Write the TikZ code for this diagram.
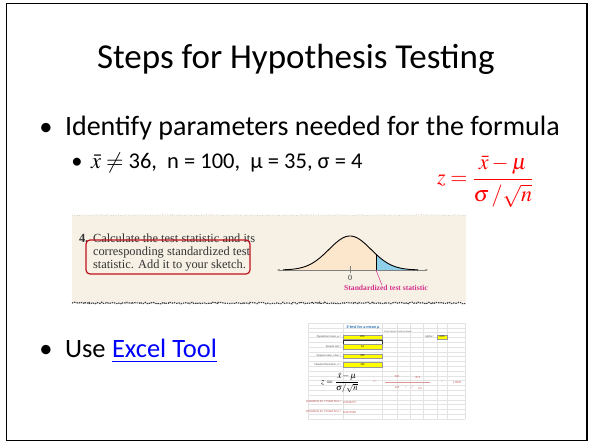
\documentclass[tikz,border=0pt]{standalone}
\usepackage{mathptmx}
\usepackage{fontspec}
\setmainfont{Carlito}
\newfontfamily\timesfont{Liberation Serif}
\usetikzlibrary{arrows.meta,decorations.pathmorphing}

\definecolor{bookbg}{HTML}{F7F1E5}
\definecolor{curvefill}{HTML}{FCE6CC}
\definecolor{tailblue}{HTML}{8ECFEA}
\definecolor{statpink}{HTML}{D2318C}
\definecolor{boxred}{HTML}{C0121C}
\definecolor{formred}{HTML}{FF0000}
\definecolor{linkblue}{HTML}{0000FF}
\definecolor{cellyellow}{HTML}{FFFF00}
\definecolor{gridgray}{HTML}{E3E3E3}
\definecolor{xlred}{HTML}{C0504D}
\definecolor{xlblue}{HTML}{2E75B6}

\tikzset{
  slidetext/.style={font=\fontsize{26.5}{30}\selectfont, anchor=base west},
  subtext/.style={font=\fontsize{22.5}{26}\selectfont, anchor=base west},
  bullet/.style={anchor=base},
  booktext/.style={font=\timesfont\fontsize{12.4}{14}\selectfont, text=black!80, anchor=base west},
  xllabel/.style={font=\fontsize{2.8}{3}\selectfont, text=black!70, anchor=east},
  xlcell/.style={fill=cellyellow, draw=black!40, line width=0.2pt, minimum width=39pt,
    minimum height=4.2pt, font=\fontsize{2.8}{3}\selectfont, anchor=west},
  xlnum/.style={font=\fontsize{3}{3.5}\selectfont, text=xlred},
}

\begin{document}
\begin{tikzpicture}[x=1pt, y=-1pt, every node/.style={inner sep=0pt, outer sep=0pt}]
\useasboundingbox (0,0) rectangle (591,444);
\draw[line width=1.6pt] (6.5,3.5) rectangle (587,440.5);

\node[font=\fontsize{35}{41}\selectfont, anchor=base west] (title) at (97,68) {Steps for Hypothesis Testing};

\node[slidetext, bullet] (dot1) at (46,135) {•};
\node[slidetext, font=\fontsize{28}{32}\selectfont] (ident) at (65,135) {Identify parameters needed for the formula};
\node[subtext, bullet] (dot2) at (77,168) {•};
\node[subtext] (params) at (91,168) {$\bar{x}\neq$ 36,\ \ n = 100,\ \ µ = 35, σ = 4};
\node[text=formred, font=\fontsize{22}{25}\selectfont, anchor=west] (zform) at (437,178)
  {$z=\displaystyle\frac{\rule{0pt}{1em}\bar{x}-\mu}{\rule[-0.3em]{0pt}{1.2em}\sigma\,/\sqrt{n}}$};

% textbook snippet
\fill[bookbg] (72,215) rectangle (466,302);
\draw[black!35, line width=0.5pt, dotted, decorate,
  decoration={random steps, segment length=2pt, amplitude=0.5pt}] (72,215) -- (466,215);
\node[booktext, font=\timesfont\bfseries\fontsize{12.4}{14}\selectfont] (stepno) at (79,242) {4.};
\node[booktext] (line1) at (93,242) {Calculate the test statistic and its};
\node[booktext] (line2) at (93,255.5) {corresponding standardized test};
\node[booktext] (line3) at (93,268.5) {statistic. Add it to your sketch.};
\draw[boxred, line width=1.2pt, rounded corners=4pt] (86,240) rectangle (250,274);

\fill[curvefill] (283,270) -- plot[domain=283:376, samples=60] (\x,{270-34*exp(-((\x-350)/21)^2/2)}) -- (376,270) -- cycle;
\fill[tailblue] (376,270) -- plot[domain=376:418, samples=30] (\x,{270-34*exp(-((\x-350)/21)^2/2)}) -- (418,270) -- cycle;
\coordinate (axl) at (277,270);
\coordinate (axr) at (428,270);
\draw[black!50, line width=0.6pt, {Stealth[length=3pt]}-{Stealth[length=3pt]}] (axl) -- (axr);
\draw[line width=0.9pt] plot[domain=283:418, samples=100] (\x,{270-34*exp(-((\x-350)/21)^2/2)});
\draw[line width=0.5pt] (376,270) -- (376,{270-34*exp(-((376-350)/21)^2/2)});
\draw[black!50, line width=0.5pt] (350,266) -- (350,273);
\node[font=\timesfont\fontsize{8}{9}\selectfont, text=black!80] (zero) at (350,278) {0};
\coordinate (stat) at (376,270);
\node[font=\timesfont\bfseries\fontsize{7.6}{9}\selectfont, text=statpink] (statlbl) at (386,288) {Standardized test statistic};
\draw[statpink, line width=0.5pt] (stat) -- (statlbl.north west -| 382,0);
\draw[black!75, line width=1.2pt, dash pattern=on 1.4pt off 0.9pt, decorate,
  decoration={random steps, segment length=1.5pt, amplitude=0.8pt}] (72,303) -- (466,303);

% use the spreadsheet
\node[slidetext, bullet] (dot3) at (46,357) {•};
\node[slidetext] (use) at (65,357) {Use};
\node[slidetext, text=linkblue] (xltool) at (112,357) {Excel Tool};
\draw[linkblue, line width=1pt] ([yshift=-4pt]xltool.base west) -- ([yshift=-4pt]xltool.base east);

% spreadsheet cut-out
\foreach \r in {0,...,20}
  \draw[gridgray, line width=0.3pt] (308,323+4.8*\r) -- (465,323+4.8*\r);
\foreach \c in {308,343,382,397,410,423,437,447,465}
  \draw[gridgray, line width=0.3pt] (\c,323) -- (\c,419);
\node[font=\bfseries\fontsize{4.2}{5}\selectfont, text=xlblue] (xltitle) at (363,327) {Z-test for a mean µ};
\node[font=\fontsize{2.4}{3}\selectfont, text=black!60] (xlhint) at (398,332) {Enter values in yellow boxes};
\node[xllabel] (popl) at (341,337) {Population mean, µ =};
\node[xlcell] (popv) at (343,337) {874};
\node[draw=black!80, fill=white, line width=0.4pt, minimum width=39pt, minimum height=4pt, anchor=west] (sel) at (343,342) {};
\node[xllabel] (nl) at (341,346.5) {Sample size =};
\node[xlcell] (nv) at (343,346.5) {64};
\node[xllabel] (xbl) at (341,356) {Sample mean, x bar =};
\node[xlcell] (xbv) at (343,356) {905};
\node[xllabel] (sdl) at (341,364.5) {Standard Deviation, σ =};
\node[xlcell] (sdv) at (343,364.5) {125};
\node[xllabel] (alphal) at (434,337) {Alpha =};
\node[xlcell, minimum width=10pt] (alphav) at (437,337) {0.05};
\node[font=\fontsize{8.5}{10}\selectfont] (xlform) at (340,383) {$z=\displaystyle\frac{\bar{x}-\mu}{\sigma/\sqrt{n}}$};
\node[xlnum] (zeq) at (375,382) {z =};
\node[xlnum] (num1) at (397,377) {905};
\node[xlnum] (minus) at (406,377) {-};
\node[xlnum] (num2) at (418,377) {874};
\draw[xlred!60, line width=0.4pt] (385,382.5) -- (430,382.5);
\node[xlnum] (den1) at (397,388) {125};
\node[xlnum] (slash) at (406,388) {/};
\node[xlnum] (root) at (412,386.5) {$\surd$};
\node[xlnum] (den2) at (420,388) {64};
\node[xlnum] (zeq2) at (442,382) {=};
\node[xlnum] (zval) at (457,382) {1.9840};
\node[xlnum, anchor=east] (p1l) at (341,402) {Probability for 1 Tailed Test =};
\node[xlnum, anchor=west] (p1v) at (343,402) {0.0236279};
\node[xlnum, anchor=east] (p2l) at (341,412) {Probability for 2 Tailed Test =};
\node[xlnum, anchor=west] (p2v) at (343,412) {0.0472558};
\end{tikzpicture}
\end{document}
